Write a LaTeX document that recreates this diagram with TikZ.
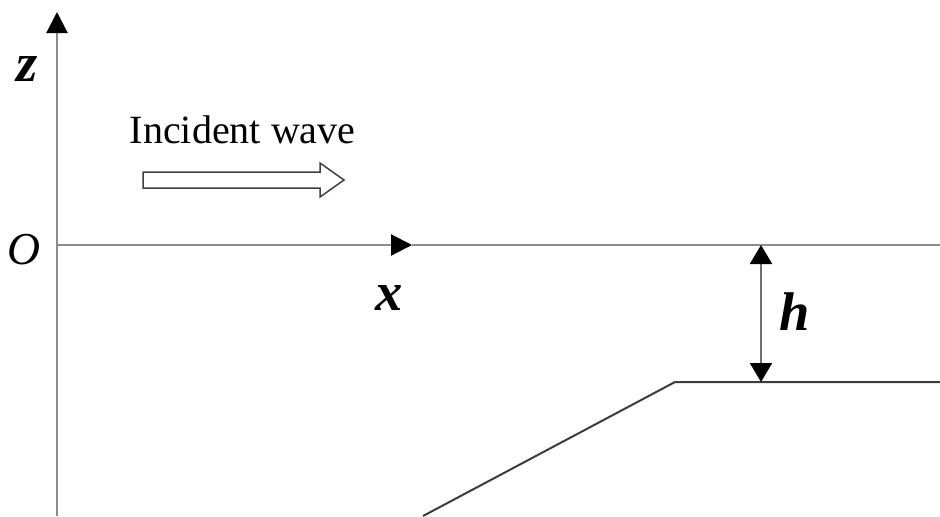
\documentclass[tikz,border=0pt]{standalone}
\usepackage{fontspec}
\setmainfont{Liberation Serif}
\usetikzlibrary{arrows.meta}
\definecolor{axisgray}{HTML}{8C8C8C}
\definecolor{bedgray}{HTML}{3C3C3C}
\definecolor{dimgray}{HTML}{707070}
\tikzset{
  axis/.style={draw=axisgray, line width=0.22mm},
  bed/.style={draw=bedgray, line width=0.2mm},
  dimline/.style={draw=dimgray, line width=0.2mm},
  tip/.style={-{Triangle[length=2.1mm, width=2.1mm, color=black]}},
  bothtips/.style={{Triangle[length=1.9mm, width=2.2mm, color=black]}-{Triangle[length=1.9mm, width=2.2mm, color=black]}},
  lbl/.style={font=\fontsize{15.5}{18}\selectfont\bfseries\itshape, inner sep=0pt},
  txt/.style={font=\fontsize{11.4}{14}\selectfont, inner sep=0pt},
}
\begin{document}
\begin{tikzpicture}[x=0.1mm, y=-0.1mm]
  \useasboundingbox (0,0) rectangle (940,516);
  % axes
  \coordinate (O) at (57,245);
  \coordinate (zbot) at (57,516);
  \coordinate (ztop) at (57,12);
  \coordinate (xtip) at (412,245);
  \coordinate (xend) at (940,245);
  \draw[axis, tip] (zbot) -- (ztop);
  \draw[axis, tip] (O) -- (xtip);
  \draw[axis] (xtip) -- (xend);
  \node[lbl] (zlab) at (27,69) {z};
  \node[txt, font=\fontsize{13}{15}\selectfont\itshape] (olab) at (24,250) {O};
  \node[lbl, anchor=base] (xlab) at (389,310) {x};
  % incident wave
  \node[txt, anchor=base west] (inc) at (129,143) {Incident wave};
  \draw[line width=0.15mm, draw=black!75, fill=white]
    (143,172) -- (320,172) -- (320,163) -- (344,180) -- (320,197)
    -- (320,188) -- (143,188) -- cycle;
  % bed
  \coordinate (toe) at (423,516);
  \coordinate (crest) at (675,382);
  \coordinate (bedend) at (940,382);
  \draw[bed] (toe) -- (crest) -- (bedend);
  % depth
  \coordinate (htop) at (761,245);
  \coordinate (hbot) at (761,382);
  \draw[dimline, bothtips] (htop) -- (hbot);
  \node[lbl, anchor=base] (hlab) at (795,330) {h};
\end{tikzpicture}
\end{document}
